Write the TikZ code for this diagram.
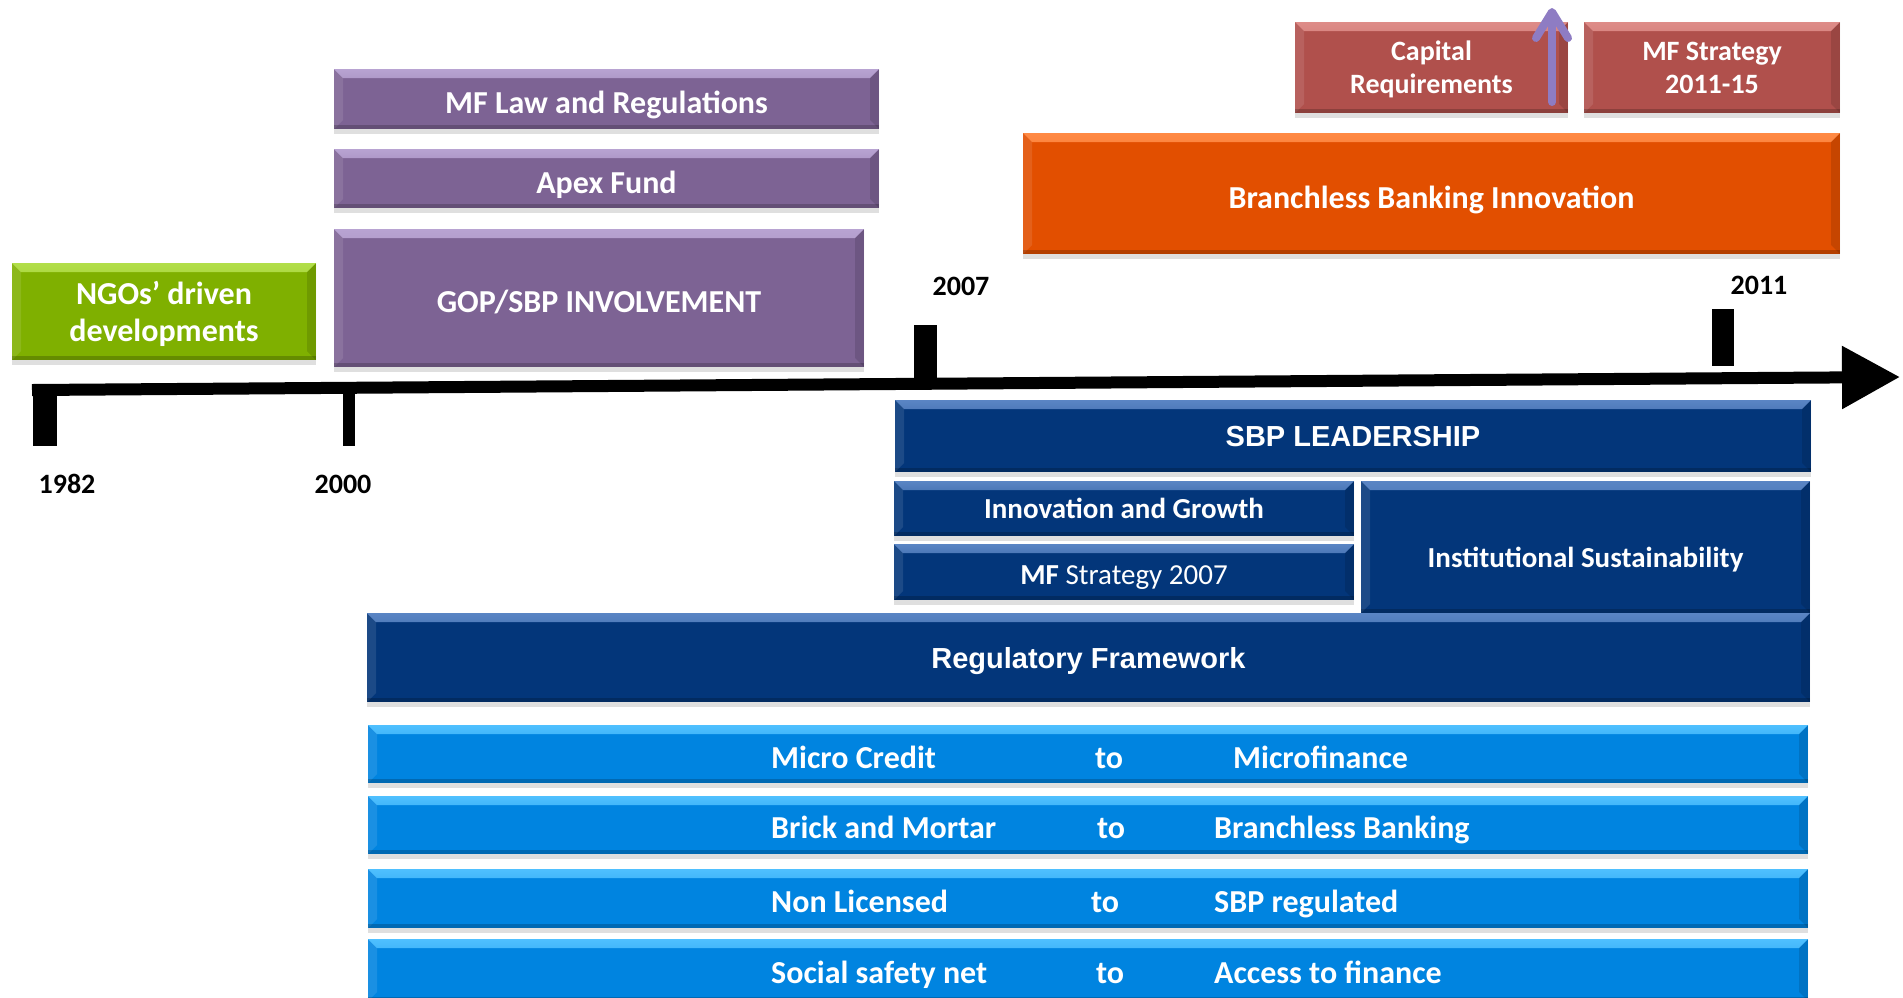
\documentclass[tikz,border=0pt]{standalone}
\usepackage{fontspec}
\setmainfont{Carlito}
\newfontfamily\arialfont{Liberation Sans}
\usetikzlibrary{arrows.meta, shadows}

\definecolor{ngogreen}{HTML}{7FB000}
\definecolor{ngolight}{HTML}{B2DE4A}
\definecolor{govpurple}{HTML}{7D6394}
\definecolor{govlight}{HTML}{B8A3D2}
\definecolor{capred}{HTML}{B0504C}
\definecolor{caplight}{HTML}{DE8C88}
\definecolor{bborange}{HTML}{E24F00}
\definecolor{bblight}{HTML}{FF8A45}
\definecolor{sbpblue}{HTML}{03367A}
\definecolor{sbplight}{HTML}{5A85C4}
\definecolor{shiftblue}{HTML}{0084E0}
\definecolor{shiftlight}{HTML}{4FC0FF}
\definecolor{arrowlav}{HTML}{8E7CC3}

\begin{document}
\begin{tikzpicture}[x=1pt, y=-1pt,
  bevelbox/.style 2 args={fill=#1, draw=none, text=white, inner sep=0pt, align=center, text depth=0pt,
    drop shadow={shadow xshift=0pt, shadow yshift=-5pt, opacity=0.25},
    path picture={
      \shade[top color=#2, bottom color=#1]
        (path picture bounding box.north west) -- (path picture bounding box.north east)
        -- ([xshift=-9pt,yshift=-9pt]path picture bounding box.north east)
        -- ([xshift=9pt,yshift=-9pt]path picture bounding box.north west) -- cycle;
      \fill[white, opacity=0.1]
        (path picture bounding box.north west) -- ([xshift=9pt,yshift=-9pt]path picture bounding box.north west)
        -- ([xshift=9pt,yshift=9pt]path picture bounding box.south west) -- (path picture bounding box.south west) -- cycle;
      \fill[black, opacity=0.12]
        (path picture bounding box.north east) -- (path picture bounding box.south east)
        -- ([xshift=-9pt,yshift=9pt]path picture bounding box.south east) -- ([xshift=-9pt,yshift=-9pt]path picture bounding box.north east) -- cycle;
      \fill[black, opacity=0.2]
        (path picture bounding box.south west) rectangle ([yshift=4pt]path picture bounding box.south east);
    }},
  bigtext/.style={font=\fontsize{32}{37}\selectfont\bfseries},
  midtext/.style={font=\fontsize{29}{34}\selectfont\bfseries},
  captext/.style={font=\fontsize{28}{33}\selectfont\bfseries},
  ariatext/.style={font=\arialfont\fontsize{29}{34}\selectfont\bfseries},
  rowtext/.style={text=white, inner sep=0pt, font=\fontsize{32}{37}\selectfont\bfseries},
  yearlabel/.style={inner sep=0pt, font=\fontsize{28}{32}\selectfont\bfseries},
  timeline/.style={line width=12pt, -{Triangle[length=58pt,width=60pt]}},
  uparrow/.style={draw=arrowlav, line width=8pt, line cap=round, -{Straight Barb[length=26pt,width=32pt,round]}}]

\clip (0,0) rectangle (1903,997);

% Early years
\node[bevelbox={ngogreen}{ngolight}, bigtext, minimum width=304pt, minimum height=97pt] (ngo) at (164,311.5) {NGOs’ driven\\developments};

\node[bevelbox={govpurple}{govlight}, bigtext, text height=29pt, minimum width=545pt, minimum height=60pt] (mflaw) at (606.5,99) {MF Law and Regulations};
\node[bevelbox={govpurple}{govlight}, bigtext, text height=29pt, minimum width=545pt, minimum height=59pt] (apex) at (606.5,178.5) {Apex Fund};
\node[bevelbox={govpurple}{govlight}, bigtext, text height=29pt, minimum width=530pt, minimum height=138pt] (gop) at (599,298) {GOP/SBP INVOLVEMENT};

% Top right boxes
\node[bevelbox={capred}{caplight}, captext, minimum width=273pt, minimum height=91pt] (capreq) at (1431.5,67.5) {Capital\\Requirements};
\node[bevelbox={capred}{caplight}, captext, minimum width=256pt, minimum height=91pt] (mfstrat) at (1712,67.5) {MF Strategy\\2011-15};
\node[bevelbox={bborange}{bblight}, bigtext, text height=29pt, minimum width=817pt, minimum height=121pt] (bbinno) at (1431.5,193.5) {Branchless Banking Innovation};

% Arrow over capital requirements
\coordinate (capbot) at (1552,102);
\coordinate (captop) at (1552,8);
\draw[uparrow] (capbot) -- (captop);

% Timeline axis with ticks
\coordinate (tstart) at (32,390);
\coordinate (tend) at (1900,377);
\draw[timeline] (tstart) -- (tend);
\fill (33,389) rectangle (57,446);
\fill (343,388) rectangle (355,446);
\fill (914,325) rectangle (937,382);
\fill (1712,309) rectangle (1734,366);

\node[yearlabel] (y1982) at (67,484) {1982};
\node[yearlabel] (y2000) at (343,484) {2000};
\node[yearlabel] (y2007) at (961,286) {2007};
\node[yearlabel] (y2011) at (1759,285) {2011};

% SBP boxes below the axis
\node[bevelbox={sbpblue}{sbplight}, ariatext, minimum width=916pt, minimum height=72pt] (sbplead) at (1353,436) {SBP LEADERSHIP};
\node[bevelbox={sbpblue}{sbplight}, midtext, minimum width=460pt, minimum height=55pt] (innov) at (1124,508.5) {Innovation and Growth};
\node[bevelbox={sbpblue}{sbplight}, font=\fontsize{29}{34}\selectfont, text height=25pt, minimum width=460pt, minimum height=56pt] (mf2007) at (1124,572) {\textbf{MF} Strategy 2007};
\node[bevelbox={sbpblue}{sbplight}, midtext, minimum width=449pt, minimum height=132pt, text height=40pt] (instit) at (1585.5,547) {Institutional Sustainability};
\node[bevelbox={sbpblue}{sbplight}, ariatext, minimum width=1443pt, minimum height=89pt] (regfw) at (1088.5,657.5) {Regulatory Framework};

% Shift rows
\node[bevelbox={shiftblue}{shiftlight}, minimum width=1440pt, minimum height=58pt] (row1) at (1088,754) {};
\node[bevelbox={shiftblue}{shiftlight}, minimum width=1440pt, minimum height=58pt] (row2) at (1088,825) {};
\node[bevelbox={shiftblue}{shiftlight}, minimum width=1440pt, minimum height=59pt] (row3) at (1088,898.5) {};
\node[bevelbox={shiftblue}{shiftlight}, minimum width=1440pt, minimum height=62pt] (row4) at (1088,970) {};

\node[rowtext, anchor=base west] (r1from) at (771,768) {Micro Credit};
\node[rowtext, anchor=base] (r1to) at (1109,768) {to};
\node[rowtext, anchor=base west] (r1into) at (1233,768) {Microfinance};

\node[rowtext, anchor=base west] (r2from) at (771,838) {Brick and Mortar};
\node[rowtext, anchor=base] (r2to) at (1111,838) {to};
\node[rowtext, anchor=base west] (r2into) at (1214,838) {Branchless Banking};

\node[rowtext, anchor=base west] (r3from) at (771,912) {Non Licensed};
\node[rowtext, anchor=base] (r3to) at (1105,912) {to};
\node[rowtext, anchor=base west] (r3into) at (1214,912) {SBP regulated};

\node[rowtext, anchor=base west] (r4from) at (771,983) {Social safety net};
\node[rowtext, anchor=base] (r4to) at (1110,983) {to};
\node[rowtext, anchor=base west] (r4into) at (1214,983) {Access to finance};

\end{tikzpicture}
\end{document}
